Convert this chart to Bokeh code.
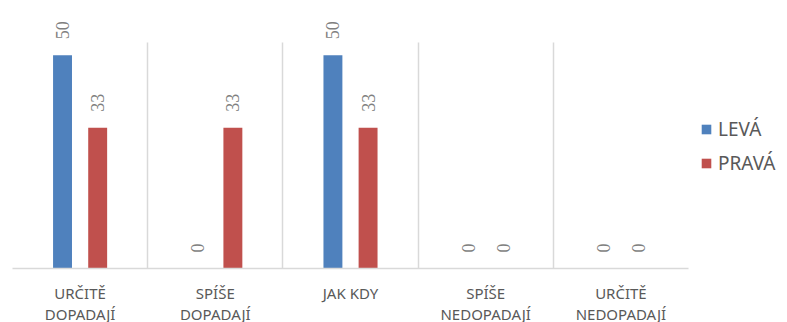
from bokeh.plotting import figure
from bokeh.models import Range1d, FixedTicker, ColumnDataSource, Legend, LegendItem, LabelSet
from bokeh.embed import file_html
from bokeh.resources import INLINE
import math

categories = ["URČITĚ\nDOPADAJÍ", "SPÍŠE\nDOPADAJÍ", "JAK KDY", "SPÍŠE\nNEDOPADAJÍ", "URČITĚ\nNEDOPADAJÍ"]
series_names = ["LEVÁ", "PRAVÁ"]
leva = [50, 0, 50, 0, 0]
prava = [33, 33, 33, 0, 0]
colors = ["#4f81bd", "#c0504d"]
axis_max = 53

FONT = "Noto Sans"
n = len(categories)
centers = [i + 0.5 for i in range(n)]
offset = 0.13
bw = 0.14
px_per_unit = 226 / axis_max
frame_h = 258
ymax = frame_h / px_per_unit

p = figure(width=787, height=322, output_backend="svg", toolbar_location=None,
           x_range=Range1d(0, n), y_range=Range1d(0, ymax),
           frame_width=676, frame_height=frame_h,
           min_border_left=12, min_border_top=10, min_border_right=99, min_border_bottom=54)
p.outline_line_color = None
p.background_fill_color = "white"
p.border_fill_color = "white"
p.yaxis.visible = False
p.ygrid.visible = False

p.xgrid.ticker = FixedTicker(ticks=list(range(n + 1)))
p.xgrid.grid_line_color = "#d9d9d9"
p.xgrid.grid_line_width = 1.5
p.xgrid.cross_bounds = (0, axis_max)

p.xaxis.ticker = FixedTicker(ticks=centers)
p.xaxis.major_label_overrides = {c: lab for c, lab in zip(centers, categories)}
p.xaxis.axis_line_color = "#d9d9d9"
p.xaxis.axis_line_width = 1.5
p.xaxis.major_tick_line_color = None
p.xaxis.minor_tick_line_color = None
p.xaxis.major_label_text_font = FONT
p.xaxis.major_label_text_font_size = "15px"
p.xaxis.major_label_text_color = "#595959"
p.xaxis.major_label_text_line_height = 1.07
p.xaxis.major_label_standoff = 8

renderers = []
for k, (vals, col) in enumerate(zip([leva, prava], colors)):
    xs = [c + (-offset if k == 0 else offset) for c in centers]
    src = ColumnDataSource(dict(x=xs, top=vals, lab=[str(v) for v in vals]))
    r = p.vbar(x="x", top="top", bottom=0, width=bw, source=src,
               fill_color=col, line_color=None)
    renderers.append(r)
    labels = LabelSet(x="x", y="top", text="lab", source=src, angle=math.pi / 2,
                      text_align="left", text_baseline="middle", y_offset=16,
                      text_font=FONT, text_font_size="18px", text_color="#7f7f7f")
    p.add_layout(labels)

legend = Legend(items=[LegendItem(label=nm, renderers=[r]) for nm, r in zip(series_names, renderers)],
                location=(12, 92), orientation="vertical",
                glyph_width=12, glyph_height=12, label_height=20, spacing=8,
                label_standoff=6, padding=0, margin=0,
                border_line_color=None, background_fill_alpha=0,
                label_text_font=FONT, label_text_font_size="19px", label_text_color="#595959")
p.add_layout(legend, "right")

open("out.html", "w").write(file_html(p, INLINE))
